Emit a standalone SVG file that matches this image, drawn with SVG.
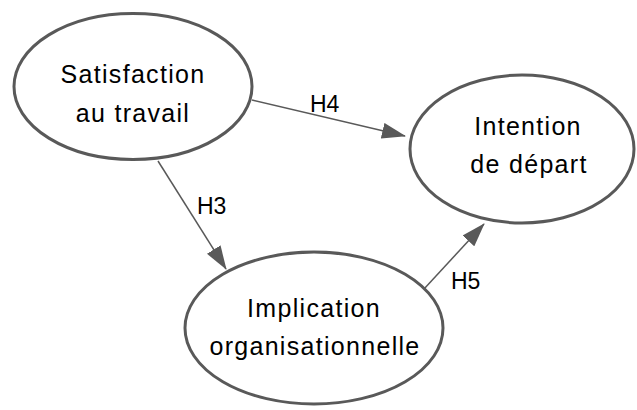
<svg xmlns="http://www.w3.org/2000/svg" width="637" height="410" viewBox="0 0 637 410">
<defs>
<style>
.node{fill:#fff;stroke:#595959;stroke-width:3}
.lbl{font-family:"Liberation Sans",Arial,sans-serif;font-size:25px;fill:#000;text-anchor:middle;letter-spacing:1.3px}
.h{font-family:"Liberation Sans",Arial,sans-serif;font-size:23px;fill:#000}
.edge{stroke:#595959;stroke-width:1.5;fill:none}
</style>
<marker id="arr" markerUnits="userSpaceOnUse" markerWidth="24" markerHeight="16" refX="23" refY="8" orient="auto">
<path d="M0,0 L24,8 L0,16 z" fill="#595959"/>
</marker>
</defs>
<g id="connectors">
<line class="edge" x1="252" y1="100" x2="405" y2="136" marker-end="url(#arr)"/>
<line class="edge" x1="158" y1="161" x2="226" y2="269" marker-end="url(#arr)"/>
<line class="edge" x1="424" y1="289" x2="484" y2="224" marker-end="url(#arr)"/>
<text class="h" x="310" y="112">H4</text>
<text class="h" x="197" y="214">H3</text>
<text class="h" x="451" y="289">H5</text>
</g>
<g id="satisfaction">
<ellipse class="node" cx="133" cy="86.5" rx="119" ry="73"/>
<text class="lbl" x="133" y="83">Satisfaction</text>
<text class="lbl" x="133" y="122">au travail</text>
</g>
<g id="intention">
<ellipse class="node" cx="522" cy="149" rx="112" ry="74"/>
<text class="lbl" x="528" y="135">Intention</text>
<text class="lbl" x="529" y="173">de départ</text>
</g>
<g id="implication">
<ellipse class="node" cx="314" cy="328" rx="129" ry="76"/>
<text class="lbl" x="314" y="317">Implication</text>
<text class="lbl" x="315" y="355">organisationnelle</text>
</g>
</svg>
